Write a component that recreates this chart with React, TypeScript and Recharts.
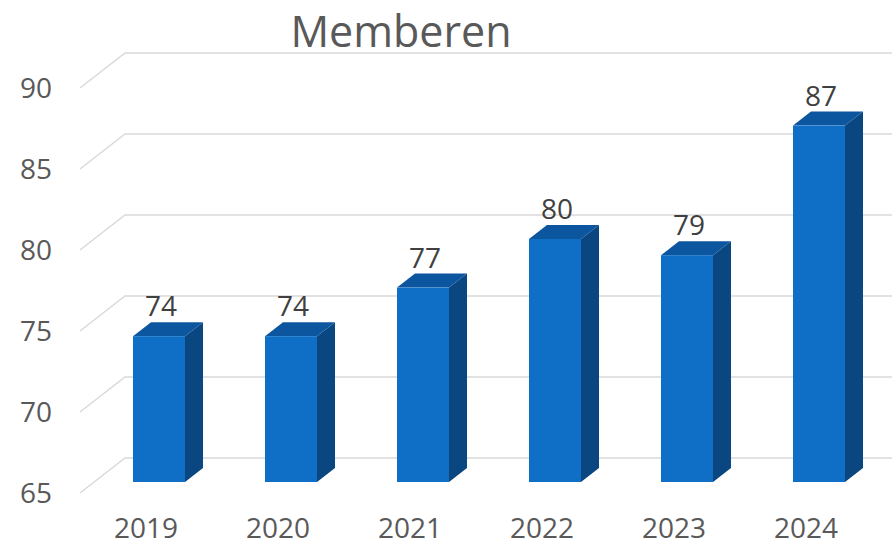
import React from 'react';
import { BarChart, Bar, XAxis, YAxis, CartesianGrid, LabelList } from 'recharts';

const years = ['2019', '2020', '2021', '2022', '2023', '2024'];
const members = [74, 74, 77, 80, 79, 87];
const yTicks = [65, 70, 75, 80, 85, 90];

const data = years.map((year, i) => ({ year, members: members[i] }));

// 3D look: depth offsets between front face and back wall
const DEPTH_X = 18;
const DEPTH_Y = 14;
const FRONT_DROP = 24;

const FONT = '"Open Sans", sans-serif';

const Bar3D = (props: any) => {
  const { x, y, width, height } = props;
  const fy = y + FRONT_DROP;
  const by = y + height + FRONT_DROP;
  const top = `${x},${fy} ${x + DEPTH_X},${fy - DEPTH_Y} ${x + width + DEPTH_X},${fy - DEPTH_Y} ${x + width},${fy}`;
  const side = `${x + width},${fy} ${x + width + DEPTH_X},${fy - DEPTH_Y} ${x + width + DEPTH_X},${by - DEPTH_Y} ${x + width},${by}`;
  return (
    <g>
      <polygon points={side} fill="#0A4780" />
      <polygon points={top} fill="#0C56A0" />
      <rect x={x} y={fy} width={width} height={by - fy} fill="#0F6FC6" />
    </g>
  );
};

const GridLine = (props: any) => {
  const { x1, x2, y1 } = props;
  return (
    <polyline
      key={props.key ?? `g-${y1}`}
      points={`${x1 - 13},${y1 + 35} ${x1 + 32},${y1} ${x2 + 7},${y1}`}
      fill="none"
      stroke="#D9D9D9"
      strokeWidth={1.5}
    />
  );
};

const YTick = (props: any) => {
  const { x, y, payload } = props;
  return (
    <text x={x - 33} y={y + 35} dy={10} textAnchor="end" fill="#595959" fontSize={28} fontFamily={FONT}>
      {payload.value}
    </text>
  );
};

const XTick = (props: any) => {
  const { x, y, payload } = props;
  return (
    <text x={x - 13} y={y + 72} textAnchor="middle" fill="#595959" fontSize={28} fontFamily={FONT}>
      {payload.value}
    </text>
  );
};

const ValueLabel = (props: any) => {
  const { x, y, width, value } = props;
  return (
    <text x={x + width / 2 + 2} y={y + 4} textAnchor="middle" fill="#404040" fontSize={28} fontFamily={FONT}>
      {value}
    </text>
  );
};

export default function App() {
  return (
    <div style={{ position: 'absolute', left: 0, top: 0, width: 892, height: 545, background: '#fff' }}>
      <BarChart
        width={892}
        height={545}
        data={data}
        margin={{ top: 53, right: 7, left: 0, bottom: 57 }}
      >
        <text x={401} y={47} textAnchor="middle" fill="#595959" fontSize={43} fontFamily={FONT}>
          Memberen
        </text>
        <CartesianGrid vertical={false} horizontal={(p: any) => <GridLine {...p} />} />
        <XAxis dataKey="year" axisLine={false} tickLine={false} height={30} tick={<XTick />} interval={0} />
        <YAxis
          domain={[65, 90]}
          ticks={yTicks}
          axisLine={false}
          tickLine={false}
          width={93}
          tick={<YTick />}
        />
        <Bar dataKey="members" barSize={52} shape={<Bar3D />} isAnimationActive={false}>
          <LabelList dataKey="members" content={<ValueLabel />} />
        </Bar>
      </BarChart>
    </div>
  );
}
